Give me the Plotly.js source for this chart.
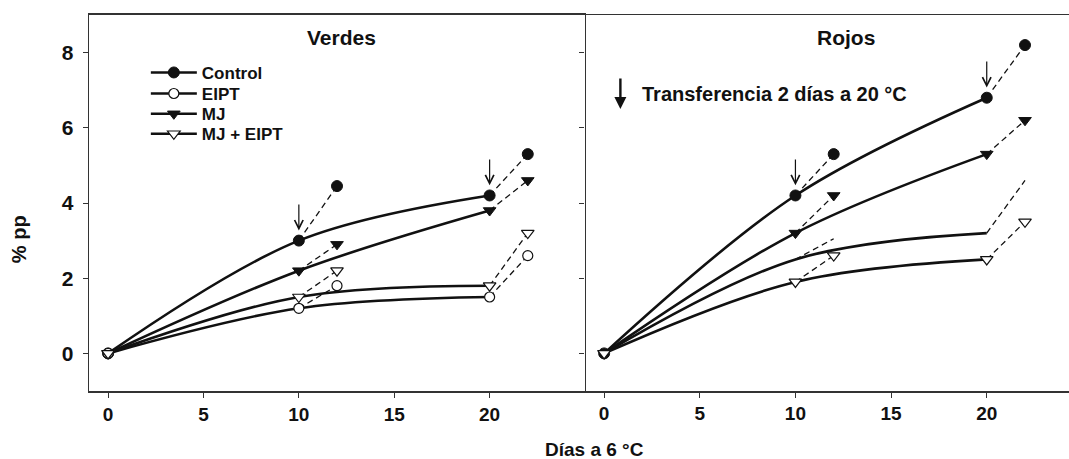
<!DOCTYPE html>
<html>
<head>
<meta charset="utf-8">
<script src="https://cdn.plot.ly/plotly-3.0.1.min.js"></script>
<style>html,body{margin:0;padding:0;background:#fff;}#chart{width:1069px;height:459px;}</style>
</head>
<body>
<div id="chart"></div>
<script>
// ---- data ----
const days = [0, 10, 20];
const transfer1 = [10, 12];
const transfer2 = [20, 22];
const seriesNames = ['Control', 'EIPT', 'MJ', 'MJ + EIPT'];

// Verdes (left panel)
const verdesControl = [0, 3.0, 4.2];
const verdesEIPT = [0, 1.2, 1.5];
const verdesMJ = [0, 2.2, 3.8];
const verdesMJEIPT = [0, 1.5, 1.8];
const verdesDay12 = [4.45, 1.8, 2.9, 2.2];   // Control, EIPT, MJ, MJ+EIPT
const verdesDay22 = [5.3, 2.6, 4.6, 3.2];

// Rojos (right panel)
const rojosControl = [0, 4.2, 6.8];
const rojosEIPT = [0, 2.5, 3.2];
const rojosMJ = [0, 3.2, 5.3];
const rojosMJEIPT = [0, 1.9, 2.5];
const rojosDay12 = [5.3, 3.05, 4.2, 2.6];
const rojosDay22 = [8.2, 4.6, 6.2, 3.5];

const xTicks = [0, 5, 10, 15, 20];
const yTicks = [0, 2, 4, 6, 8];

// ---- styles ----
const INK = '#111';
const markerStyles = [
  {symbol: 'circle', size: 11, color: INK, line: {color: INK, width: 1}},
  {symbol: 'circle', size: 10, color: '#fff', line: {color: INK, width: 1.2}},
  {symbol: 'triangle-down', size: 11, color: INK, line: {color: INK, width: 1}},
  {symbol: 'triangle-down', size: 11, color: '#fff', line: {color: INK, width: 1.2}}
];
const legendIds = ['legend', 'legend2', 'legend3', 'legend4'];

const traces = [];
function addPanel(solid, d12, d22, xa, ya, legend, hideMarkers) {
  solid.forEach((vals, i) => {
    const noMk = hideMarkers && hideMarkers[i];
    traces.push({
      x: [transfer1[0], transfer1[1], null, transfer2[0], transfer2[1]],
      y: [vals[1], d12[i], null, vals[2], d22[i]],
      xaxis: xa, yaxis: ya, mode: 'lines', showlegend: false, hoverinfo: 'skip',
      line: {color: INK, width: 1.3, dash: '6px,4px'}
    });
    traces.push({
      x: days, y: vals, xaxis: xa, yaxis: ya,
      mode: noMk ? 'lines' : 'lines+markers',
      line: {color: INK, width: 2.6, shape: 'spline', smoothing: 1},
      marker: markerStyles[i],
      name: seriesNames[i], showlegend: legend, legend: legendIds[i]
    });
    if (!noMk) {
      traces.push({
        x: [transfer1[1], transfer2[1]], y: [d12[i], d22[i]],
        xaxis: xa, yaxis: ya, mode: 'markers', showlegend: false,
        marker: markerStyles[i]
      });
    }
  });
}
addPanel([verdesControl, verdesEIPT, verdesMJ, verdesMJEIPT], verdesDay12, verdesDay22, 'x', 'y', true, null);
addPanel([rojosControl, rojosEIPT, rojosMJ, rojosMJEIPT], rojosDay12, rojosDay22, 'x2', 'y2', false, [false, true, false, false]);

function arrow(xa, ya, x, v) {
  return {xref: xa, yref: ya, axref: xa, ayref: ya, x: x, y: v + 0.27, ax: x, ay: v + 1.0,
    text: '', showarrow: true, arrowhead: 5, arrowsize: 1.4, arrowwidth: 1.2, arrowcolor: INK, standoff: 0};
}

const FONT = 'Liberation Sans, Arial, sans-serif';
const boldFont = (s) => ({family: FONT, size: s, color: INK, weight: 'bold'});
const split = 496 / 980;

const legendRowsY = [0.846, 0.790, 0.736, 0.683];
function legendAt(yv) {
  return {x: 0.058, y: yv, xanchor: 'left', yanchor: 'middle', bgcolor: 'rgba(0,0,0,0)',
    font: boldFont(17), itemwidth: 46};
}

const axisCommon = {
  showgrid: false, zeroline: false, showline: true, linecolor: '#333', mirror: true,
  ticks: 'outside', ticklen: 5, tickcolor: '#333', tickwidth: 1
};

const layout = {
  width: 1069, height: 459,
  margin: {l: 89, r: 0, t: 15, b: 68},
  paper_bgcolor: '#fff', plot_bgcolor: '#fff',
  showlegend: true,
  legend: legendAt(legendRowsY[0]),
  legend2: legendAt(legendRowsY[1]),
  legend3: legendAt(legendRowsY[2]),
  legend4: legendAt(legendRowsY[3]),
  xaxis: Object.assign({}, axisCommon, {domain: [0, split], range: [-1, 25], tickvals: xTicks,
    linewidth: 2, tickfont: boldFont(19), anchor: 'y'}),
  yaxis: Object.assign({}, axisCommon, {range: [-1, 9], tickvals: yTicks, linewidth: 1.3,
    tickfont: boldFont(21), ticklabelstandoff: 5, anchor: 'x'}),
  xaxis2: Object.assign({}, axisCommon, {domain: [split, 1], range: [-1, 24.3], tickvals: xTicks,
    linewidth: 1.5, tickfont: boldFont(19), anchor: 'y2'}),
  yaxis2: Object.assign({}, axisCommon, {range: [-1, 9], tickvals: yTicks, showline: false,
    showticklabels: false, anchor: 'x2', mirror: false}),
  annotations: [
    {xref: 'x domain', yref: 'paper', x: 0.51, y: 0.94, yanchor: 'middle', xanchor: 'center', text: 'Verdes', showarrow: false, font: boldFont(21)},
    {xref: 'x2 domain', yref: 'paper', x: 0.54, y: 0.94, yanchor: 'middle', xanchor: 'center', text: 'Rojos', showarrow: false, font: boldFont(21)},
    {xref: 'paper', yref: 'paper', x: -0.072, y: 0.405, xanchor: 'center', yanchor: 'middle', text: '% pp', textangle: -90, showarrow: false, font: boldFont(20)},
    {xref: 'paper', yref: 'paper', x: 0.516, y: -0.155, xanchor: 'center', text: 'Días a 6 °C', showarrow: false, font: boldFont(19), yanchor: 'middle'},
    {xref: 'x2', yref: 'y2', x: 1.9, y: 6.9, xanchor: 'left', yanchor: 'middle', text: 'Transferencia 2 días a 20 °C', showarrow: false, font: boldFont(20)},
    {xref: 'x2', yref: 'y2', axref: 'x2', ayref: 'y2', x: 0.85, y: 6.5, ax: 0.85, ay: 7.35, text: '', showarrow: true,
      arrowhead: 2, arrowsize: 1, arrowwidth: 2.4, arrowcolor: INK, standoff: 0},
    arrow('x', 'y', days[1], verdesControl[1]),
    arrow('x', 'y', days[2], verdesControl[2]),
    arrow('x2', 'y2', days[1], rojosControl[1]),
    arrow('x2', 'y2', days[2], rojosControl[2])
  ]
};

Plotly.newPlot('chart', traces, layout, {staticPlot: true, displayModeBar: false});
</script>
</body>
</html>
